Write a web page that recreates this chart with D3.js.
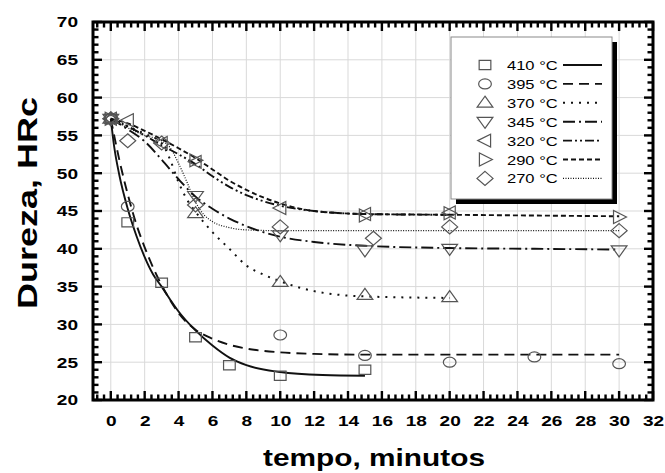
<!DOCTYPE html>
<html>
<head>
<meta charset="utf-8">
<script src="https://cdn.jsdelivr.net/npm/d3@7"></script>
<style>
  html, body { margin: 0; padding: 0; background: #fff; }
  svg { display: block; }
  text { font-family: "Liberation Sans", Arial, sans-serif; }
</style>
</head>
<body>
<svg id="chart" width="665" height="473" viewBox="0 0 665 473"></svg>
<script>
// ---- data -------------------------------------------------------------
const labels = ["410 °C", "395 °C", "370 °C", "345 °C", "320 °C", "290 °C", "270 °C"];

const xTickValues = [0, 2, 4, 6, 8, 10, 12, 14, 16, 18, 20, 22, 24, 26, 28, 30, 32];
const yTickValues = [20, 25, 30, 35, 40, 45, 50, 55, 60, 65, 70];

// measured hardness (time in minutes, HRc)
const pt410 = [0, 1, 3, 5, 7, 10, 15];
const ph410 = [57.2, 43.5, 35.5, 28.3, 24.6, 23.2, 24.0];
const pt395 = [0, 1, 10, 15, 20, 25, 30];
const ph395 = [57.2, 45.6, 28.6, 25.9, 25.0, 25.7, 24.8];
const pt370 = [0, 5, 10, 15, 20];
const ph370 = [57.2, 44.7, 35.6, 33.9, 33.6];
const pt345 = [0, 5, 10, 15, 20, 30];
const ph345 = [57.2, 47.0, 41.8, 39.8, 40.0, 39.8];
const pt320 = [0, 1, 3, 5, 10, 15, 20];
const ph320 = [57.2, 57.0, 54.0, 51.5, 45.4, 44.6, 44.8];
const pt290 = [0, 5, 15, 20, 30];
const ph290 = [57.2, 51.7, 44.4, 44.7, 44.2];
const pt270 = [0, 1, 3, 5, 10, 15.5, 20, 30];
const ph270 = [57.2, 54.3, 54.0, 45.8, 42.9, 41.4, 42.9, 42.4];

// fitted trend curves
const ct410 = [0, 0.2, 0.5, 1, 1.5, 2, 2.5, 3, 3.5, 4, 5, 6, 7, 8, 10, 12.5, 15];
const ch410 = [57.2, 53.5, 49.8, 45.3, 41.8, 38.9, 36.6, 35.0, 33.3, 31.7, 29.2, 27.2, 25.6, 24.6, 23.7, 23.3, 23.2];
const ct395 = [0, 0.5, 1, 1.5, 2, 2.5, 3, 3.5, 4, 5, 6, 7, 8, 9, 10, 12, 15, 20, 25, 30];
const ch395 = [57.2, 51.8, 47.2, 43.3, 40.2, 37.5, 35.2, 33.2, 31.5, 29.3, 28.1, 27.3, 26.8, 26.5, 26.3, 26.1, 26.0, 26.0, 26.0, 26.0];
const ct370 = [0, 1, 2, 3, 3.5, 4, 4.5, 5, 6, 7, 8, 9, 10, 12, 15, 20];
const ch370 = [57.2, 56.2, 55.2, 54.0, 51.8, 48.8, 46.5, 44.9, 42.2, 40.0, 37.8, 36.6, 35.7, 34.4, 33.7, 33.5];
const ct345 = [0, 1, 2, 3, 4, 5, 6, 7, 8, 9, 10, 12, 15, 20, 25, 30];
const ch345 = [57.2, 55.8, 54.2, 51.8, 49.2, 46.9, 45.3, 44.0, 43.0, 42.2, 41.6, 40.9, 40.4, 40.1, 40.0, 39.9];
const ct320 = [0, 1, 2, 3, 4, 5, 6, 7, 8, 9, 10, 12, 15, 20];
const ch320 = [57.2, 56.2, 55.0, 53.7, 52.5, 51.2, 49.6, 48.2, 47.1, 46.3, 45.7, 45.0, 44.6, 44.5];
const ct290 = [0, 1, 2, 3, 4, 5, 6, 7, 8, 9, 10, 12, 15, 20, 25, 30];
const ch290 = [57.2, 56.6, 55.6, 54.5, 53.3, 52.0, 50.5, 49.0, 47.8, 46.8, 46.0, 45.0, 44.6, 44.5, 44.4, 44.3];
const ct270 = [0, 1, 2, 3, 3.5, 4, 4.5, 5, 5.5, 6, 7, 8, 10, 15, 20, 30];
const ch270 = [57.2, 56.0, 55.0, 54.3, 53.4, 51.3, 48.8, 46.2, 44.5, 43.6, 42.8, 42.5, 42.4, 42.4, 42.4, 42.4];

// ---- styles -------------------------------------------------------------
const markerKinds = ["square", "circle", "up", "down", "left", "right", "diamond"];
const dashStyles = [null, "10,6", "2,6", "12,4,2,4", "9,3,2,3,2,3", "5,3", "1,1.5"];
const lineWidths = [1.9, 1.9, 2, 1.9, 1.9, 1.9, 1.2];
const MARK_COLOR = "#555";
const STRETCH = 1.27;   // horizontal widening of glyphs and markers

const seriesData = [
  { pt: pt410, ph: ph410, ct: ct410, ch: ch410 },
  { pt: pt395, ph: ph395, ct: ct395, ch: ch395 },
  { pt: pt370, ph: ph370, ct: ct370, ch: ch370 },
  { pt: pt345, ph: ph345, ct: ct345, ch: ch345 },
  { pt: pt320, ph: ph320, ct: ct320, ch: ch320 },
  { pt: pt290, ph: ph290, ct: ct290, ch: ch290 },
  { pt: pt270, ph: ph270, ct: ct270, ch: ch270 }
];

function shapePath(kind) {
  switch (kind) {
    case "square":  { const a = 4.6; return `M${-a},${-a}H${a}V${a}H${-a}Z`; }
    case "circle":  { const r = 5; return `M${r},0A${r},${r} 0 1 1 ${-r},0A${r},${r} 0 1 1 ${r},0Z`; }
    case "up":      return "M0,-6.6L6.2,4.4L-6.2,4.4Z";
    case "down":    return "M0,6.6L6.2,-4.4L-6.2,-4.4Z";
    case "left":    return "M-5.8,0L4.4,-6.5L4.4,6.5Z";
    case "right":   return "M5.8,0L-4.4,-6.5L-4.4,6.5Z";
    case "diamond": return "M0,-7L6.3,0L0,7L-6.3,0Z";
  }
}

// ---- layout -------------------------------------------------------------
const PL = 93, PR = 653, PT = 22, PB = 400;
const svg = d3.select("#chart");

const x = d3.scaleLinear().domain([-1.05, 32]).range([PL, PR]);
const y = d3.scaleLinear().domain([20, 70]).range([PB, PT]);

function widen(sel, k) {
  sel.each(function () {
    const w = this.getComputedTextLength();
    d3.select(this).attr("textLength", w * k).attr("lengthAdjust", "spacingAndGlyphs");
  });
}

// grid
const grid = svg.append("g").attr("class", "grid");
grid.selectAll("line.v").data(xTickValues.filter(v => v < 32)).join("line")
  .attr("class", "v").attr("stroke", "#d9d9d9").attr("stroke-width", 1)
  .attr("x1", d => x(d)).attr("x2", d => x(d)).attr("y1", PT).attr("y2", PB);
grid.selectAll("line.h").data(yTickValues.filter(v => v > 20 && v < 70)).join("line")
  .attr("class", "h").attr("stroke", "#d9d9d9").attr("stroke-width", 1)
  .attr("y1", d => y(d)).attr("y2", d => y(d)).attr("x1", PL).attr("x2", PR);

// frame and inward tick marks on all four sides
const xMinor = d3.range(-0.8, 32.01, 0.4).map(v => +v.toFixed(2))
  .filter(v => Math.abs(v / 2 - Math.round(v / 2)) > 0.01);
const yMinor = d3.range(21, 70, 1).filter(v => v % 5 !== 0);
const xTicksAll = xTickValues.map(v => ({ v, len: 9 })).concat(xMinor.map(v => ({ v, len: 5.5 })));
const yTicksAll = yTickValues.map(v => ({ v, len: 9 })).concat(yMinor.map(v => ({ v, len: 5.5 })));

const axisInk = svg.append("g").attr("class", "axis-ink");
const TW = 2.4;
axisInk.selectAll("rect.xb").data(xTicksAll).join("rect").attr("class", "xb")
  .attr("fill", "#000")
  .attr("x", d => x(d.v) - TW / 2).attr("width", TW)
  .attr("y", d => PB - d.len).attr("height", d => d.len);
axisInk.selectAll("rect.xt").data(xTicksAll).join("rect").attr("class", "xt")
  .attr("fill", "#000")
  .attr("x", d => x(d.v) - TW / 2).attr("width", TW)
  .attr("y", PT).attr("height", d => d.len);
axisInk.selectAll("rect.yl").data(yTicksAll).join("rect").attr("class", "yl")
  .attr("fill", "#000")
  .attr("y", d => y(d.v) - TW / 2).attr("height", TW)
  .attr("x", PL).attr("width", d => d.len);
axisInk.selectAll("rect.yr").data(yTicksAll).join("rect").attr("class", "yr")
  .attr("fill", "#000")
  .attr("y", d => y(d.v) - TW / 2).attr("height", TW)
  .attr("x", d => PR - d.len).attr("width", d => d.len);

axisInk.append("rect").attr("class", "frame")
  .attr("x", PL).attr("y", PT).attr("width", PR - PL).attr("height", PB - PT)
  .attr("fill", "none").attr("stroke", "#000").attr("stroke-width", 3);

// tick labels
const gxB = svg.append("g").attr("transform", `translate(0,${PB})`)
  .call(d3.axisBottom(x).tickValues(xTickValues).tickSize(0).tickPadding(15).tickFormat(d3.format("d")));
gxB.select(".domain").remove();
gxB.selectAll("text").attr("font-size", 15).attr("font-weight", "bold").attr("fill", "#000")
  .attr("font-family", "'Liberation Sans', Arial, sans-serif").call(widen, STRETCH);

const gyL = svg.append("g").attr("transform", `translate(${PL},0)`)
  .call(d3.axisLeft(y).tickValues(yTickValues).tickSize(0).tickPadding(15).tickFormat(d3.format("d")));
gyL.select(".domain").remove();
gyL.selectAll("text").attr("font-size", 15).attr("font-weight", "bold").attr("fill", "#000")
  .attr("font-family", "'Liberation Sans', Arial, sans-serif").call(widen, STRETCH);

// curves
const line = d3.line().x(d => x(d[0])).y(d => y(d[1])).curve(d3.curveMonotoneX);
const curves = svg.append("g").attr("fill", "none");
seriesData.forEach((s, i) => {
  curves.append("path")
    .attr("d", line(s.ct.map((t, j) => [t, s.ch[j]])))
    .attr("stroke", "#111")
    .attr("stroke-width", lineWidths[i])
    .attr("stroke-dasharray", dashStyles[i]);
});

// markers
const marks = svg.append("g").attr("fill", "none").attr("stroke", MARK_COLOR).attr("stroke-width", 1.2);
seriesData.forEach((s, i) => {
  marks.append("g").selectAll("path").data(s.pt.map((t, j) => [t, s.ph[j]])).join("path")
    .attr("d", shapePath(markerKinds[i]))
    .attr("vector-effect", "non-scaling-stroke")
    .attr("transform", d => `translate(${x(d[0])},${y(d[1])}) scale(${STRETCH},1)`);
});

// legend
const lg = svg.append("g");
lg.append("rect").attr("x", 456).attr("y", 42).attr("width", 161).attr("height", 162).attr("fill", "#000");
lg.append("rect").attr("x", 451).attr("y", 37).attr("width", 161).attr("height", 162)
  .attr("fill", "#fff").attr("stroke", "#8a8a8a").attr("stroke-width", 1);
labels.forEach((lab, i) => {
  const cy = 65 + i * 18.9;
  lg.append("path").attr("d", shapePath(markerKinds[i]))
    .attr("fill", "none").attr("stroke", MARK_COLOR).attr("stroke-width", 1.2)
    .attr("vector-effect", "non-scaling-stroke")
    .attr("transform", `translate(485,${cy}) scale(${STRETCH},1)`);
  lg.append("text").attr("x", 507).attr("y", cy + 5).attr("font-size", 13).attr("fill", "#000")
    .text(lab).call(widen, STRETCH);
  lg.append("line").attr("x1", 563).attr("x2", 602).attr("y1", cy).attr("y2", cy)
    .attr("stroke", "#111").attr("stroke-width", lineWidths[i])
    .attr("stroke-dasharray", dashStyles[i]);
});

// axis titles
svg.append("text").attr("x", 374).attr("y", 466).attr("text-anchor", "middle")
  .attr("font-size", 23).attr("font-weight", "bold").attr("fill", "#000")
  .attr("textLength", 222).attr("lengthAdjust", "spacingAndGlyphs")
  .text("tempo, minutos");
svg.append("text").attr("transform", "translate(37,203) rotate(-90)").attr("text-anchor", "middle")
  .attr("font-size", 28).attr("font-weight", "bold").attr("fill", "#000")
  .attr("textLength", 212).attr("lengthAdjust", "spacingAndGlyphs")
  .text("Dureza, HRc");
</script>
</body>
</html>
